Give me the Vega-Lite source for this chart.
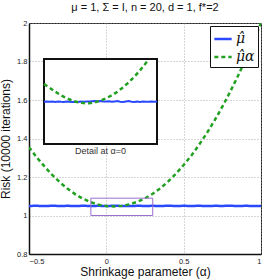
{
  "$schema": "https://vega.github.io/schema/vega-lite/v6.json",
  "width": 232,
  "height": 231,
  "autosize": {"type": "none"},
  "padding": {"left": 29, "top": 23, "right": 5, "bottom": 26},
  "background": "white",
  "title": {"text": "μ = 1, Σ = I, n = 20, d = 1, f*=2", "fontSize": 11, "fontWeight": "normal", "font": "Liberation Sans", "color": "#111", "offset": 6},
  "config": {
    "view": {"stroke": "#222", "strokeWidth": 1},
    "axis": {"labelFont": "Liberation Sans", "labelFontSize": 7.5, "labelColor": "#222", "titleFont": "Liberation Sans", "titleFontWeight": "normal", "titleFontSize": 12, "titleColor": "#111", "ticks": false, "domainColor": "#111", "domainWidth": 1.5, "gridColor": "#999", "gridDash": [1, 2], "gridWidth": 0.8, "labelOverlap": false, "labelBound": false}
  },
  "datasets": {
    "main": [
      {"alpha": -0.5, "risk": 1.0498, "series": "μ̂"}, {"alpha": -0.45, "risk": 1.0502, "series": "μ̂"}, {"alpha": -0.4, "risk": 1.0495, "series": "μ̂"}, {"alpha": -0.35, "risk": 1.0503, "series": "μ̂"}, {"alpha": -0.3, "risk": 1.0497, "series": "μ̂"}, {"alpha": -0.25, "risk": 1.0501, "series": "μ̂"}, {"alpha": -0.2, "risk": 1.0496, "series": "μ̂"}, {"alpha": -0.15, "risk": 1.0502, "series": "μ̂"}, {"alpha": -0.1, "risk": 1.0498, "series": "μ̂"}, {"alpha": -0.05, "risk": 1.0501, "series": "μ̂"}, {"alpha": 0, "risk": 1.0497, "series": "μ̂"}, {"alpha": 0.05, "risk": 1.0503, "series": "μ̂"}, {"alpha": 0.1, "risk": 1.0499, "series": "μ̂"}, {"alpha": 0.15, "risk": 1.0495, "series": "μ̂"}, {"alpha": 0.2, "risk": 1.0502, "series": "μ̂"}, {"alpha": 0.25, "risk": 1.0498, "series": "μ̂"}, {"alpha": 0.3, "risk": 1.0501, "series": "μ̂"}, {"alpha": 0.35, "risk": 1.0496, "series": "μ̂"}, {"alpha": 0.4, "risk": 1.0503, "series": "μ̂"}, {"alpha": 0.45, "risk": 1.0497, "series": "μ̂"}, {"alpha": 0.5, "risk": 1.0501, "series": "μ̂"}, {"alpha": 0.55, "risk": 1.0498, "series": "μ̂"}, {"alpha": 0.6, "risk": 1.0502, "series": "μ̂"}, {"alpha": 0.65, "risk": 1.0496, "series": "μ̂"}, {"alpha": 0.7, "risk": 1.0501, "series": "μ̂"}, {"alpha": 0.75, "risk": 1.0499, "series": "μ̂"}, {"alpha": 0.8, "risk": 1.0503, "series": "μ̂"}, {"alpha": 0.85, "risk": 1.0497, "series": "μ̂"}, {"alpha": 0.9, "risk": 1.0501, "series": "μ̂"}, {"alpha": 0.95, "risk": 1.0498, "series": "μ̂"}, {"alpha": 1.0, "risk": 1.0500, "series": "μ̂"},
      {"alpha": -0.5, "risk": 1.355, "series": "μ̂α"}, {"alpha": -0.45, "risk": 1.302, "series": "μ̂α"}, {"alpha": -0.4, "risk": 1.255, "series": "μ̂α"}, {"alpha": -0.35, "risk": 1.211, "series": "μ̂α"}, {"alpha": -0.3, "risk": 1.172, "series": "μ̂α"}, {"alpha": -0.25, "risk": 1.139, "series": "μ̂α"}, {"alpha": -0.2, "risk": 1.110, "series": "μ̂α"}, {"alpha": -0.15, "risk": 1.087, "series": "μ̂α"}, {"alpha": -0.1, "risk": 1.069, "series": "μ̂α"}, {"alpha": -0.05, "risk": 1.056, "series": "μ̂α"}, {"alpha": 0, "risk": 1.049, "series": "μ̂α"}, {"alpha": 0.05, "risk": 1.047, "series": "μ̂α"}, {"alpha": 0.1, "risk": 1.050, "series": "μ̂α"}, {"alpha": 0.15, "risk": 1.058, "series": "μ̂α"}, {"alpha": 0.2, "risk": 1.071, "series": "μ̂α"}, {"alpha": 0.25, "risk": 1.089, "series": "μ̂α"}, {"alpha": 0.3, "risk": 1.113, "series": "μ̂α"}, {"alpha": 0.35, "risk": 1.142, "series": "μ̂α"}, {"alpha": 0.4, "risk": 1.177, "series": "μ̂α"}, {"alpha": 0.45, "risk": 1.217, "series": "μ̂α"}, {"alpha": 0.5, "risk": 1.262, "series": "μ̂α"}, {"alpha": 0.55, "risk": 1.312, "series": "μ̂α"}, {"alpha": 0.6, "risk": 1.368, "series": "μ̂α"}, {"alpha": 0.65, "risk": 1.428, "series": "μ̂α"}, {"alpha": 0.7, "risk": 1.494, "series": "μ̂α"}, {"alpha": 0.75, "risk": 1.565, "series": "μ̂α"}, {"alpha": 0.8, "risk": 1.642, "series": "μ̂α"}, {"alpha": 0.85, "risk": 1.723, "series": "μ̂α"}, {"alpha": 0.9, "risk": 1.810, "series": "μ̂α"}, {"alpha": 0.95, "risk": 1.902, "series": "μ̂α"}, {"alpha": 1.0, "risk": 2.0, "series": "μ̂α"}
    ],
    "inset": [
      {"alpha": -0.1, "risk": 1.0488, "series": "blue"}, {"alpha": -0.09, "risk": 1.0491, "series": "blue"}, {"alpha": -0.08, "risk": 1.0487, "series": "blue"}, {"alpha": -0.07, "risk": 1.0489, "series": "blue"}, {"alpha": -0.06, "risk": 1.0486, "series": "blue"}, {"alpha": -0.05, "risk": 1.0490, "series": "blue"}, {"alpha": -0.04, "risk": 1.0487, "series": "blue"}, {"alpha": -0.03, "risk": 1.0486, "series": "blue"}, {"alpha": -0.02, "risk": 1.0489, "series": "blue"}, {"alpha": -0.01, "risk": 1.0487, "series": "blue"}, {"alpha": 0.0, "risk": 1.0485, "series": "blue"}, {"alpha": 0.01, "risk": 1.0488, "series": "blue"}, {"alpha": 0.02, "risk": 1.0486, "series": "blue"}, {"alpha": 0.03, "risk": 1.0489, "series": "blue"}, {"alpha": 0.04, "risk": 1.0487, "series": "blue"}, {"alpha": 0.05, "risk": 1.0490, "series": "blue"}, {"alpha": 0.06, "risk": 1.0491, "series": "blue"}, {"alpha": 0.07, "risk": 1.0493, "series": "blue"}, {"alpha": 0.08, "risk": 1.0494, "series": "blue"}, {"alpha": 0.09, "risk": 1.0492, "series": "blue"}, {"alpha": 0.1, "risk": 1.0495, "series": "blue"}, {"alpha": 0.11, "risk": 1.0491, "series": "blue"}, {"alpha": 0.12, "risk": 1.0489, "series": "blue"}, {"alpha": 0.13, "risk": 1.0492, "series": "blue"}, {"alpha": 0.14, "risk": 1.0488, "series": "blue"}, {"alpha": 0.15, "risk": 1.0491, "series": "blue"}, {"alpha": 0.16, "risk": 1.0494, "series": "blue"}, {"alpha": 0.17, "risk": 1.0488, "series": "blue"}, {"alpha": 0.18, "risk": 1.0485, "series": "blue"}, {"alpha": 0.19, "risk": 1.0490, "series": "blue"}, {"alpha": 0.2, "risk": 1.0494, "series": "blue"}, {"alpha": 0.21, "risk": 1.0487, "series": "blue"}, {"alpha": 0.22, "risk": 1.0484, "series": "blue"}, {"alpha": 0.23, "risk": 1.0489, "series": "blue"}, {"alpha": 0.24, "risk": 1.0486, "series": "blue"}, {"alpha": 0.25, "risk": 1.0491, "series": "blue"}, {"alpha": 0.26, "risk": 1.0488, "series": "blue"}, {"alpha": 0.27, "risk": 1.0487, "series": "blue"}, {"alpha": 0.28, "risk": 1.0489, "series": "blue"}, {"alpha": 0.29, "risk": 1.0488, "series": "blue"}, {"alpha": 0.3, "risk": 1.0489, "series": "blue"},
      {"alpha": -0.1, "risk": 1.0675, "series": "green"}, {"alpha": -0.08, "risk": 1.0635, "series": "green"}, {"alpha": -0.06, "risk": 1.0594, "series": "green"}, {"alpha": -0.04, "risk": 1.0556, "series": "green"}, {"alpha": -0.02, "risk": 1.0524, "series": "green"}, {"alpha": 0.0, "risk": 1.0500, "series": "green"}, {"alpha": 0.02, "risk": 1.0482, "series": "green"}, {"alpha": 0.04, "risk": 1.0473, "series": "green"}, {"alpha": 0.06, "risk": 1.0471, "series": "green"}, {"alpha": 0.08, "risk": 1.0480, "series": "green"}, {"alpha": 0.1, "risk": 1.0500, "series": "green"}, {"alpha": 0.12, "risk": 1.0525, "series": "green"}, {"alpha": 0.14, "risk": 1.0555, "series": "green"}, {"alpha": 0.16, "risk": 1.0594, "series": "green"}, {"alpha": 0.18, "risk": 1.0640, "series": "green"}, {"alpha": 0.2, "risk": 1.0693, "series": "green"}, {"alpha": 0.22, "risk": 1.0753, "series": "green"}, {"alpha": 0.24, "risk": 1.0820, "series": "green"}, {"alpha": 0.26, "risk": 1.0894, "series": "green"}, {"alpha": 0.27, "risk": 1.0935, "series": "green"}
    ]
  },
  "layer": [
    {
      "data": {"name": "main"},
      "mark": {"type": "line", "strokeWidth": 2.5, "clip": true},
      "encoding": {
        "x": {"field": "alpha", "type": "quantitative", "scale": {"domain": [-0.5, 1], "nice": false, "zero": false}, "axis": {"values": [-0.5, 0, 0.5, 1], "format": "~g", "labelOverlap": false, "title": "Shrinkage parameter (α)", "labelPadding": 3, "titlePadding": 2, "grid": true}},
        "y": {"field": "risk", "type": "quantitative", "scale": {"domain": [0.8, 2], "nice": false, "zero": false}, "axis": {"values": [0.8, 1, 1.2, 1.4, 1.6, 1.8, 2], "format": "~g", "labelOverlap": false, "title": "Risk (10000 iterations)", "labelPadding": 2, "titlePadding": 4, "grid": true}},
        "color": {"field": "series", "type": "nominal", "scale": {"domain": ["μ̂", "μ̂α"], "range": ["#2a48ff", "#22a022"]},
          "legend": {"orient": "top-right", "offset": 3, "title": null, "padding": 3, "strokeColor": "#111", "fillColor": "white", "symbolType": "stroke", "symbolSize": 300, "symbolStrokeWidth": 2.5, "labelFont": "DejaVu Serif", "labelFontStyle": "italic", "labelFontSize": 14, "labelColor": "#111", "rowPadding": 1, "labelOffset": 3}},
        "strokeDash": {"field": "series", "type": "nominal", "scale": {"domain": ["μ̂", "μ̂α"], "range": [[1, 0], [4, 3]]}, "legend": null}
      }
    },
    {
      "data": {"values": [{}]},
      "mark": {"type": "rect", "fill": null, "fillOpacity": 0, "stroke": "#9a6fd0", "strokeWidth": 1},
      "encoding": {
        "x": {"datum": -0.1, "type": "quantitative", "scale": {"domain": [-0.5, 1], "nice": false, "zero": false}, "axis": null},
        "x2": {"datum": 0.3},
        "y": {"datum": 1.0, "type": "quantitative", "scale": {"domain": [0.8, 2], "nice": false, "zero": false}, "axis": null},
        "y2": {"datum": 1.09}
      }
    },
    {
      "data": {"values": [{}]},
      "mark": {"type": "rect", "fill": "white", "stroke": "#111", "strokeWidth": 2},
      "encoding": {
        "x": {"datum": -0.1, "type": "quantitative", "scale": {"domain": [-0.1, 0.3], "range": [15, 128], "nice": false, "zero": false}, "axis": null},
        "x2": {"datum": 0.3},
        "y": {"datum": 1.004, "type": "quantitative", "scale": {"domain": [1.004, 1.094], "range": [121, 36], "nice": false, "zero": false}, "axis": null},
        "y2": {"datum": 1.094}
      }
    },
    {
      "data": {"name": "inset"},
      "transform": [{"filter": "datum.series === 'blue'"}],
      "mark": {"type": "line", "strokeWidth": 2, "color": "#2a48ff"},
      "encoding": {
        "x": {"field": "alpha", "type": "quantitative", "scale": {"domain": [-0.1, 0.3], "range": [15, 128], "nice": false, "zero": false}, "axis": null},
        "y": {"field": "risk", "type": "quantitative", "scale": {"domain": [1.004, 1.094], "range": [121, 36], "nice": false, "zero": false}, "axis": null}
      }
    },
    {
      "data": {"name": "inset"},
      "transform": [{"filter": "datum.series === 'green'"}],
      "mark": {"type": "line", "strokeWidth": 2.5, "color": "#22a022", "strokeDash": [4, 3]},
      "encoding": {
        "x": {"field": "alpha", "type": "quantitative", "scale": {"domain": [-0.1, 0.3], "range": [15, 128], "nice": false, "zero": false}, "axis": null},
        "y": {"field": "risk", "type": "quantitative", "scale": {"domain": [1.004, 1.094], "range": [121, 36], "nice": false, "zero": false}, "axis": null}
      }
    },
    {
      "data": {"values": [{}]},
      "mark": {"type": "text", "text": "Detail at α=0", "font": "Liberation Sans", "fontSize": 9, "color": "#333", "baseline": "top", "dy": 3},
      "encoding": {
        "x": {"datum": 0.1, "type": "quantitative", "scale": {"domain": [-0.1, 0.3], "range": [15, 128], "nice": false, "zero": false}, "axis": null},
        "y": {"datum": 1.004, "type": "quantitative", "scale": {"domain": [1.004, 1.094], "range": [121, 36], "nice": false, "zero": false}, "axis": null}
      }
    }
  ],
  "resolve": {"scale": {"x": "independent", "y": "independent", "color": "independent", "strokeDash": "independent"}, "axis": {"x": "independent", "y": "independent"}}
}
